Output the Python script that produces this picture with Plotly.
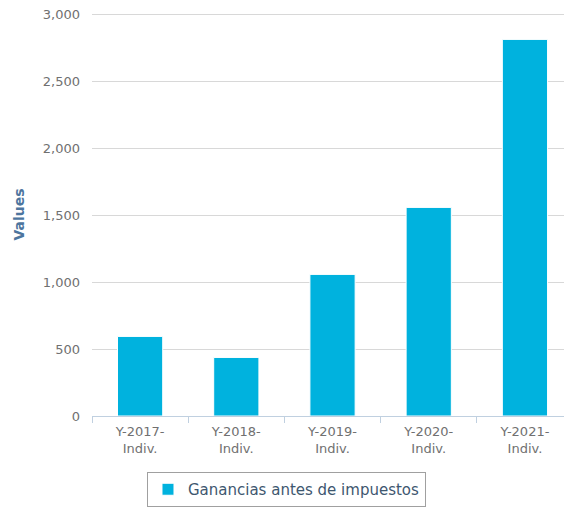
import plotly.graph_objects as go

categories = ["Y-2017-<br>Indiv.", "Y-2018-<br>Indiv.", "Y-2019-<br>Indiv.", "Y-2020-<br>Indiv.", "Y-2021-<br>Indiv."]
values = [594, 437, 1057, 1557, 2811]
series_name = "Ganancias antes de impuestos"
y_ticks = [0, 500, 1000, 1500, 2000, 2500, 3000]
y_ticklabels = ["0", "500", "1,000", "1,500", "2,000", "2,500", "3,000"]

xpos = list(range(len(categories)))
boundaries = [i - 0.5 for i in range(len(categories) + 1)]

fig = go.Figure()
fig.add_trace(go.Bar(
    x=xpos, y=values, name=series_name,
    marker=dict(color="#00B2DE", line=dict(color="white", width=1)),
    width=0.47, showlegend=True,
))

fig.update_layout(
    width=564, height=507,
    margin=dict(l=92, r=0, t=13, b=87),
    paper_bgcolor="white", plot_bgcolor="white",
    font=dict(family="DejaVu Sans", size=13, color="#666666"),
    showlegend=True,
    legend=dict(
        orientation="h", x=0.1165, y=-0.14, xanchor="left", yanchor="top",
        bordercolor="#a0a0a0", borderwidth=1, bgcolor="white",
        font=dict(family="DejaVu Sans", size=15, color="#3E576F"),
    ),
    xaxis=dict(
        range=[-0.5, 4.406],
        tickmode="array", tickvals=xpos, ticktext=categories,
        ticks="", showgrid=False, zeroline=False,
        showline=True, linecolor="#C0D0E0", linewidth=1,
        ticklabelstandoff=3,
        tickfont=dict(family="DejaVu Sans", size=13, color="#707070"),
        minor=dict(tickmode="array", tickvals=boundaries, ticks="outside",
                   ticklen=6, tickcolor="#C0D0E0", tickwidth=1, showgrid=False),
    ),
    yaxis=dict(
        range=[0, 3008],
        tickmode="array", tickvals=y_ticks, ticktext=y_ticklabels,
        showgrid=True, gridcolor="#D8D8D8", gridwidth=1,
        zeroline=False, showline=False, ticks="",
        ticklabelstandoff=11,
        tickfont=dict(family="DejaVu Sans", size=13, color="#707070"),
        title=dict(text="<b>Values</b>", standoff=14,
                   font=dict(family="DejaVu Sans", size=14, color="#4D759E")),
    ),
)

fig.write_html("out.html", config={"displayModeBar": False},
               post_script="document.body.style.margin='0';document.body.style.overflow='hidden';")
